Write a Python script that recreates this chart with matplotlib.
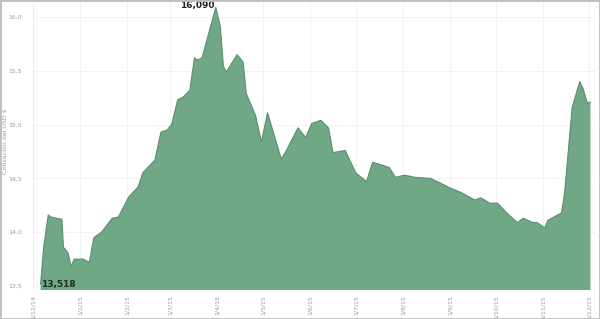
import numpy as np
import pandas as pd
import matplotlib
matplotlib.use('Agg')
import matplotlib.pyplot as plt
import matplotlib.dates as mdates
from matplotlib.patches import Rectangle

# días desde el inicio y cotización
start = pd.Timestamp('2014-12-01')
days = [5, 7, 10, 12, 19, 20, 23, 25, 27, 33, 37, 40, 45, 52, 56, 63, 69, 72, 80, 84,
        88, 91, 95, 99, 103, 106, 108, 111, 120, 123, 125, 127, 134, 138, 140, 146, 150, 154, 158, 163,
        166, 174, 179, 183, 189, 194, 197, 205, 212, 219, 223, 230, 234, 238, 244, 251, 261, 267, 274, 281,
        290, 294, 300, 305, 311, 318, 322, 328, 331, 336, 338, 347, 349, 354, 359, 361, 364, 366]
values = [13.518, 13.86, 14.16, 14.14, 14.12, 13.86, 13.81, 13.68, 13.75, 13.75, 13.72, 13.95, 14.00, 14.13, 14.14, 14.33, 14.42, 14.55, 14.67, 14.93,
          14.95, 15.00, 15.23, 15.26, 15.32, 15.62, 15.60, 15.62, 16.09, 15.91, 15.54, 15.49, 15.65, 15.58, 15.29, 15.09, 14.84, 15.11, 14.92, 14.68,
          14.75, 14.97, 14.88, 15.01, 15.04, 14.97, 14.74, 14.76, 14.55, 14.47, 14.65, 14.62, 14.60, 14.51, 14.53, 14.51, 14.50, 14.46, 14.41, 14.37,
          14.30, 14.32, 14.27, 14.27, 14.18, 14.09, 14.13, 14.09, 14.09, 14.04, 14.11, 14.18, 14.36, 15.16, 15.40, 15.34, 15.20, 15.21]
yticks = [13.5, 14.0, 14.5, 15.0, 15.5, 16.0]
ylabel = 'Cotización del USD $'

dates = start + pd.to_timedelta(days, unit='D')
vals = np.array(values)

fig = plt.figure(figsize=(6, 3.19), dpi=100)
ax = fig.add_axes([33 / 600, 1 - 290 / 319, (595 - 33) / 600, (290 - 3) / 319])

ax.fill_between(dates, vals, 13.0, color='#70a886', lw=0)
ax.plot(dates, vals, color='#5e8c70', lw=0.8)

ax.set_ylim(13.463, 16.13)
ax.set_xlim(start, pd.Timestamp('2015-12-05'))
ax.set_yticks(yticks)
ax.set_yticklabels([f'{t:.1f}'.replace('.', ',') for t in yticks])
ax.xaxis.set_major_locator(mdates.MonthLocator())
ax.xaxis.set_major_formatter(mdates.DateFormatter('%-d/%-m/%y'))
ax.tick_params(axis='x', rotation=90, labelsize=4.5, colors='#999999', length=0, pad=4)
ax.tick_params(axis='y', labelsize=4.5, colors='#999999', length=0, pad=8)
ax.grid(True, color='#f0f0f0', lw=0.6)
ax.set_axisbelow(True)
for s in ax.spines.values():
    s.set_visible(False)
ax.axvline(start, color='#e6e6e6', lw=0.8, zorder=0)
ax.set_ylabel(ylabel, fontsize=4.5, color='#999999')
ax.yaxis.set_label_coords(-0.045, 0.52)

# máximo y mínimo
imax = int(np.argmax(vals))
imin = int(np.argmin(vals))
ax.annotate(f'{vals[imax]:.3f}'.replace('.', ','), (dates[imax], vals[imax]),
            xytext=(-1, 1), textcoords='offset points', ha='right', va='center',
            fontsize=6.5, fontweight='bold', color='#222222')
ax.annotate(f'{vals[imin]:.3f}'.replace('.', ','), (dates[imin], ax.get_ylim()[0]),
            xytext=(0, 1), textcoords='offset points', ha='left', va='bottom',
            fontsize=6.5, fontweight='bold', color='#1c2e22')

fig.add_artist(Rectangle((0, 0), 1, 1, transform=fig.transFigure, fill=False,
                         ec='#bdbdbd', lw=2))

fig.savefig('out.png', dpi=100, facecolor='white')
